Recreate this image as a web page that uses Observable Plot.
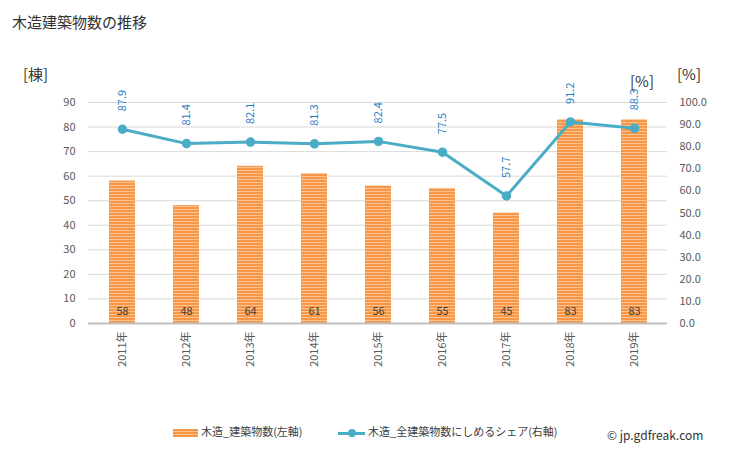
<!DOCTYPE html>
<html><head><meta charset="utf-8">
<script src="https://cdn.jsdelivr.net/npm/d3@7"></script>
<script src="https://cdn.jsdelivr.net/npm/@observablehq/plot@0.6"></script>
<style>
body{margin:0;background:#fff;font-family:"Noto Sans CJK JP","Noto Sans",sans-serif;}
#wrap{position:relative;width:729px;height:450px;}
.abs{position:absolute;white-space:nowrap;color:#333;}
</style></head>
<body><div id="wrap"></div>
<script>
const years = ["2011年","2012年","2013年","2014年","2015年","2016年","2017年","2018年","2019年"];
const counts = [58,48,64,61,56,55,45,83,83];
const shares = [87.9,81.4,82.1,81.3,82.4,77.5,57.7,91.2,88.3];
const leftTicks = [0,10,20,30,40,50,60,70,80,90];
const rightTicks = [0,10,20,30,40,50,60,70,80,90,100];

const data = years.map((y,i)=>({year:y,count:counts[i],share:shares[i]}));
const k = 0.9; // right axis 0-100 maps onto left 0-90
const font = '"Noto Sans CJK JP","Noto Sans",sans-serif';

const chart = Plot.plot({
  width:729, height:450,
  marginTop:102, marginBottom:127, marginLeft:88, marginRight:62,
  style:{fontFamily:font, fontSize:"11px", color:"#595959", background:"transparent"},
  x:{domain:years, paddingInner:0.6, paddingOuter:0.3, label:null},
  y:{domain:[0,90], label:null},
  marks:[
    Plot.gridY(leftTicks.filter(d=>d>0), {stroke:"#d9d9d9", strokeOpacity:1}),
    Plot.axisY(leftTicks, {anchor:"left", tickSize:0, tickPadding:13, label:null, fill:"#595959"}),
    Plot.axisY(rightTicks.map(d=>d*k), {anchor:"right", tickSize:0, tickPadding:12, label:null, fill:"#595959", tickFormat:d=>(d/k).toFixed(1)}),
    Plot.axisX({tickSize:0, tickPadding:8, tickRotate:-90, label:null, fill:"#595959"}),
    Plot.barY(data, {x:"year", y:"count", fill:"url(#stripes)"}),
    Plot.ruleY([0], {stroke:"#bfbfbf", strokeWidth:2}),
    Plot.text(data, {x:"year", y:0, text:d=>String(d.count), dy:-12, fill:"#404040", fontSize:11}),
    Plot.line(data, {x:"year", y:d=>d.share*k, stroke:"#4bacc6", strokeWidth:3}),
    Plot.dot(data, {x:"year", y:d=>d.share*k, r:4, fill:"#4bacc6", stroke:"#4bacc6"}),
    Plot.text(data, {x:"year", y:d=>d.share*k, text:d=>d.share.toFixed(1), rotate:-90, textAnchor:"start", dy:-18, fill:"#1f7bc4", fontSize:11})
  ]
});

const svg = d3.select(chart);
const defs = svg.insert("defs", ":first-child");
const pat = defs.append("pattern").attr("id","stripes").attr("patternUnits","userSpaceOnUse").attr("width",4).attr("height",3);
pat.append("rect").attr("width",4).attr("height",3).attr("fill","#fbc38f");
pat.append("rect").attr("width",4).attr("height",2).attr("fill","#f79646");

const wrap = document.getElementById("wrap");
wrap.appendChild(chart);
chart.style.position="absolute"; chart.style.left="0"; chart.style.top="0";

function add(html, css){const d=document.createElement("div");d.className="abs";d.innerHTML=html;Object.assign(d.style,css);wrap.appendChild(d);return d;}
add("木造建築物数の推移",{left:"12px",top:"11px",fontSize:"15px",color:"#333"});
add("[棟]",{left:"23px",top:"63px",fontSize:"15px"});
add("[%]",{left:"630px",top:"70px",fontSize:"15px"});
add("[%]",{left:"677px",top:"63px",fontSize:"15px"});
add('<span style="display:inline-block;width:25px;height:8px;vertical-align:middle;background:repeating-linear-gradient(to bottom,#f79646 0 2px,#fbc38f 2px 3px);margin-right:3px"></span>木造_建築物数(左軸)',{left:"173px",top:"423px",fontSize:"11px",color:"#404040"});
add('<span style="display:inline-block;position:relative;width:27px;height:10px;vertical-align:middle;margin-right:3px"><span style="position:absolute;left:0;top:4px;width:27px;height:3px;background:#4bacc6"></span><span style="position:absolute;left:10px;top:1px;width:8px;height:8px;border-radius:50%;background:#4bacc6"></span></span>木造_全建築物数にしめるシェア(右軸)',{left:"338px",top:"423px",fontSize:"11px",color:"#404040"});
add("© jp.gdfreak.com",{left:"607px",top:"426px",fontSize:"12px",color:"#333"});
</script></body></html>
